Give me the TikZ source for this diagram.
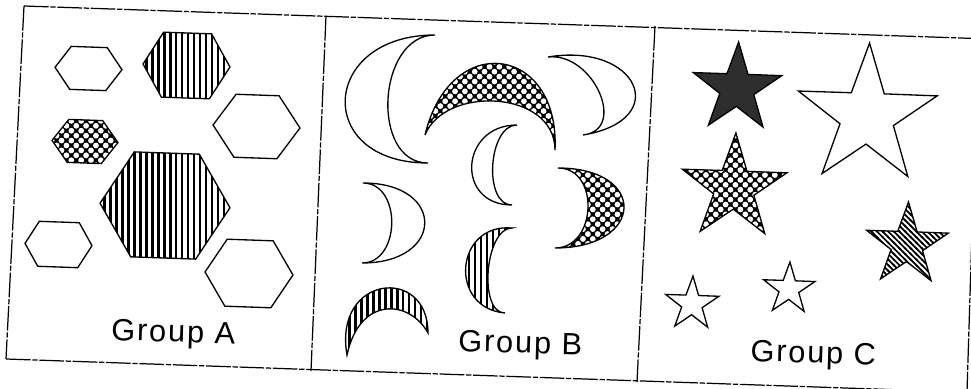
\documentclass[tikz,border=0pt]{standalone}
\usepackage{fontspec}
\newfontfamily\grpfont[LetterSpace=6]{Liberation Sans}
\usetikzlibrary{shapes.geometric, patterns}

\pgfdeclarepatternformonly{vlines}{\pgfqpoint{-1pt}{-1pt}}{\pgfqpoint{4.4pt}{4.4pt}}{\pgfqpoint{3.4pt}{3.4pt}}{%
  \pgfsetlinewidth{1.45pt}
  \pgfpathmoveto{\pgfqpoint{1.7pt}{-1pt}}
  \pgfpathlineto{\pgfqpoint{1.7pt}{4.4pt}}
  \pgfusepath{stroke}}
\pgfdeclarepatternformonly{slines}{\pgfqpoint{-1pt}{-1pt}}{\pgfqpoint{4.4pt}{4.4pt}}{\pgfqpoint{3.2pt}{3.2pt}}{%
  \pgfsetlinewidth{1pt}
  \pgfpathmoveto{\pgfqpoint{-0.5pt}{3.7pt}}
  \pgfpathlineto{\pgfqpoint{3.7pt}{-0.5pt}}
  \pgfusepath{stroke}}
\pgfdeclarepatternformonly{wdots}{\pgfqpoint{-1pt}{-1pt}}{\pgfqpoint{6.6pt}{6.6pt}}{\pgfqpoint{5.6pt}{5.6pt}}{%
  \pgfpathcircle{\pgfqpoint{1.4pt}{1.4pt}}{1.65pt}
  \pgfpathcircle{\pgfqpoint{4.2pt}{4.2pt}}{1.65pt}
  \pgfusepath{fill}}

\begin{document}
\begin{tikzpicture}[
    x=0.02cm, y=-0.02cm,
    framed/.style={line width=0.7pt, dash pattern=on 14pt off 1pt on 3pt off 1pt},
    shp/.style={draw=black, line width=0.75pt, line join=miter},
    shpwhite/.style={shp, fill=white},
    shpstripe/.style={shp, pattern=vlines},
    shpholes/.style={shp, preaction={fill=black}, preaction={pattern=wdots, pattern color=white}},
    shpdark/.style={shp, fill=black!82},
    shphatch/.style={shp, pattern=slines},
    starshp/.style={star, star points=5, star point ratio=2.6, inner sep=0pt, rotate=-2},
    grouplabel/.style={anchor=base, inner sep=0pt, rotate=-1.7, font={\grpfont\fontsize{17.5}{20}\selectfont}}
]

\useasboundingbox (0,0) rectangle (971,389);
\fill[white] (0,0) rectangle (971,389);
\clip (0,0) rectangle (971,389);

\draw[framed] (24,6) -- (990,39);
\draw[framed] (6,359) -- (990,393);
\draw[framed] (24,6) -- (6,359);
\draw[framed] (326,16) -- (311,371);
\draw[framed] (655,26) -- (637,382);
\draw[framed] (978,38) -- (967,392);

\draw[shpwhite, shift={(88.5,68.5)}, rotate=-2] (-33.5,0) -- (-18,-21.5) -- (18,-21.5) -- (33.5,0) -- (18,21.5) -- (-18,21.5) -- cycle;
\draw[shpstripe, shift={(186.5,65.5)}, rotate=-2] (-43.5,0) -- (-24,-32.5) -- (24,-32.5) -- (43.5,0) -- (24,32.5) -- (-24,32.5) -- cycle;
\draw[shpwhite, shift={(256.5,126.5)}, rotate=-2] (-43.5,0) -- (-21.5,-31.5) -- (21.5,-31.5) -- (43.5,0) -- (21.5,31.5) -- (-21.5,31.5) -- cycle;
\draw[shpholes, shift={(85,141.5)}, rotate=-2] (-33,0) -- (-17,-21.5) -- (17,-21.5) -- (33,0) -- (17,21.5) -- (-17,21.5) -- cycle;
\draw[shpstripe, shift={(165,205.5)}, rotate=-2] (-65,0) -- (-32.5,-52.5) -- (32.5,-52.5) -- (65,0) -- (32.5,52.5) -- (-32.5,52.5) -- cycle;
\draw[shpwhite, shift={(58.5,244.5)}, rotate=-2] (-33.5,0) -- (-20,-22.5) -- (20,-22.5) -- (33.5,0) -- (20,22.5) -- (-20,22.5) -- cycle;
\draw[shpwhite, shift={(249,273.5)}, rotate=-2] (-44,0) -- (-23,-33.5) -- (23,-33.5) -- (44,0) -- (23,33.5) -- (-23,33.5) -- cycle;

\draw[shpwhite] (435,35) .. controls (320,35) and (313,163) .. (428,163) .. controls (370,163) and (377,35) .. (435,35) -- cycle;
\draw[shpholes] (425,135) .. controls (450,30) and (560,45) .. (555,150) .. controls (555,90) and (445,85) .. (425,135) -- cycle;
\draw[shpwhite] (548,57) .. controls (638,42) and (673,120) .. (583,135) .. controls (628,130) and (593,52) .. (548,57) -- cycle;
\draw[shpwhite] (517,125) .. controls (460,125) and (455,205) .. (512,205) .. controls (483,205) and (488,125) .. (517,125) -- cycle;
\draw[shpwhite] (363,183) .. controls (446,183) and (445,263) .. (362,263) .. controls (401,263) and (402,183) .. (363,183) -- cycle;
\draw[shpholes] (558,168) .. controls (648,168) and (645,248) .. (555,248) .. controls (597,248) and (600,168) .. (558,168) -- cycle;
\draw[shpstripe] (512,228) .. controls (455,223) and (448,308) .. (505,313) .. controls (478,313) and (485,228) .. (512,228) -- cycle;
\draw[shpstripe] (347,355) .. controls (333,275) and (428,265) .. (428,333) .. controls (410,300) and (360,295) .. (347,355) -- cycle;

\node[starshp, shpdark, minimum size=1.86cm] (darkstar) at (737,88.5) {};
\node[starshp, shpwhite, minimum size=2.92cm] (bigstar) at (867,116) {};
\node[starshp, shpholes, minimum size=2.2cm] (holestar) at (734,188) {};
\node[starshp, shphatch, minimum size=1.72cm] (hatchstar) at (907,245) {};
\node[starshp, shpwhite, minimum size=1.12cm] (smallstarA) at (692,304) {};
\node[starshp, shpwhite, minimum size=1.08cm] (smallstarB) at (789,289) {};

\node[grouplabel] (labelA) at (173,342) {Group A};
\node[grouplabel] (labelB) at (520,353) {Group B};
\node[grouplabel] (labelC) at (813,363) {Group C};

\end{tikzpicture}
\end{document}
